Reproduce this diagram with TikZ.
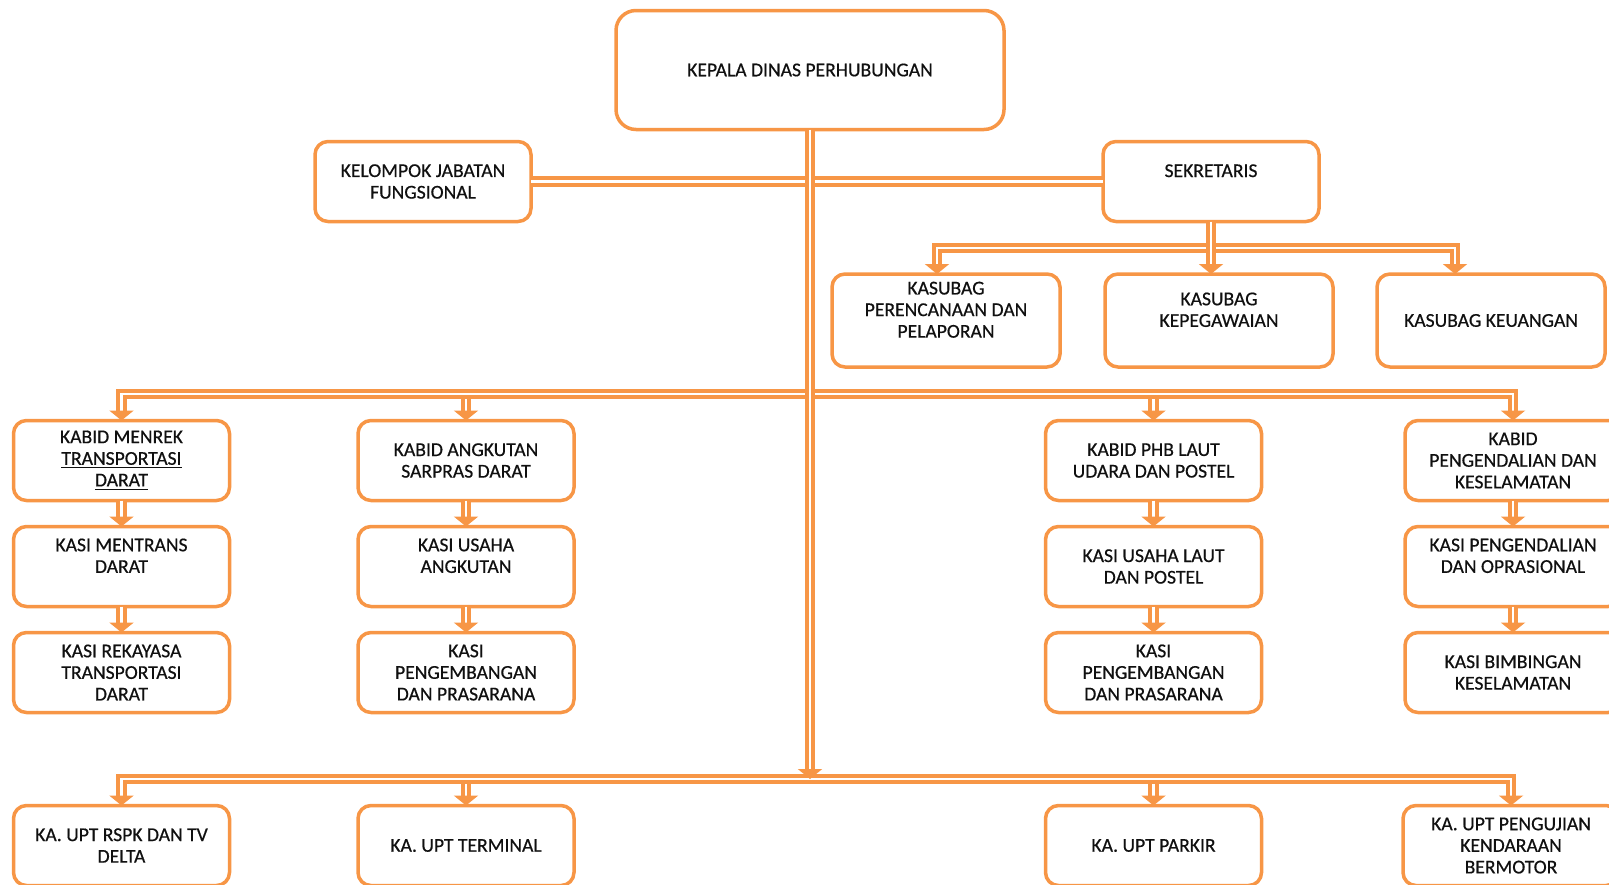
\documentclass[tikz,border=0pt]{standalone}
\usepackage{fontspec}
\setmainfont{Carlito}[BoldFont=Carlito,BoldFeatures={FakeBold=0.5}]
\usetikzlibrary{arrows.meta,positioning}
\definecolor{dhorange}{HTML}{F79646}
\definecolor{dhtext}{HTML}{101010}
\begin{document}
\begin{tikzpicture}[
  x=0.5pt,y=-0.5pt,
  font=\fontsize{9.8}{10.8}\selectfont\bfseries,
  box/.style={draw=dhorange,line width=1.75pt,rounded corners=6.5pt,fill=white,text=dhtext,
    align=center,inner sep=2pt,outer sep=0pt,minimum width=108pt,minimum height=40pt},
  sub/.style={box,minimum width=114pt,minimum height=46.5pt},
  link/.style={draw=dhorange,line width=2pt,double=white,double distance=1.25pt,->},
  >={Triangle[length=5pt,width=12pt]}]
\useasboundingbox (0,0) rectangle (1609,884);
\clip (0,0) rectangle (1609,884);
\node[box,minimum width=194pt,minimum height=59.5pt,rounded corners=10pt] (kadis) at (810,70) {KEPALA DINAS PERHUBUNGAN};
\node[box] (kjf) at (423,181.5) {KELOMPOK JABATAN\\FUNGSIONAL};
\node[box] (sek) at (1211,181.5) {SEKRETARIS\\\mbox{}};
\node[sub] (sbren) at (946,320.5) {KASUBAG\\PERENCANAAN DAN\\PELAPORAN\\\mbox{}};
\node[sub] (sbpeg) at (1219,320.5) {KASUBAG\\KEPEGAWAIAN\\\mbox{}};
\node[sub] (sbkeu) at (1491,320.5) {KASUBAG KEUANGAN};
\node[box] (kb1) at (121.5,460.5) {KABID MENREK\\\underline{TRANSPORTASI}\\\underline{DARAT}};
\node[box,below=13pt of kb1] (ks1a) {KASI MENTRANS\\DARAT\\\mbox{}};
\node[box,below=13pt of ks1a] (ks1b) {KASI REKAYASA\\TRANSPORTASI\\DARAT};
\node[box] (kb2) at (466,460.5) {KABID ANGKUTAN\\SARPRAS DARAT};
\node[box,below=13pt of kb2] (ks2a) {KASI USAHA\\ANGKUTAN\\\mbox{}};
\node[box,below=13pt of ks2a] (ks2b) {KASI\\PENGEMBANGAN\\DAN PRASARANA};
\node[box] (kb3) at (1153.5,460.5) {KABID PHB LAUT\\UDARA DAN POSTEL};
\node[box,below=13pt of kb3] (ks3a) {KASI USAHA LAUT\\DAN POSTEL};
\node[box,below=13pt of ks3a] (ks3b) {KASI\\PENGEMBANGAN\\DAN PRASARANA};
\node[box] (kb4) at (1513,460.5) {KABID\\PENGENDALIAN DAN\\KESELAMATAN};
\node[box,below=13pt of kb4] (ks4a) {KASI PENGENDALIAN\\DAN OPRASIONAL\\\mbox{}};
\node[box,below=13pt of ks4a] (ks4b) {KASI BIMBINGAN\\KESELAMATAN};
\node[box] (upt1) at (121.5,845.5) {KA. UPT RSPK DAN TV\\DELTA};
\node[box] (upt2) at (466,845.5) {KA. UPT TERMINAL};
\node[box] (upt3) at (1153.5,845.5) {KA. UPT PARKIR};
\node[box] (upt4) at (1511,845.5) {KA. UPT PENGUJIAN\\KENDARAAN\\BERMOTOR};
\coordinate (sekbus) at (1211,248);
\coordinate (midbus) at (810,394);
\coordinate (uptbus) at (810,779);
\draw[link,-] (kjf) -- (sek);
\draw[link] (sekbus) -| ([xshift=-4.5pt]sbren.north);
\draw[link] (sekbus) -| ([xshift=-18pt]sbkeu.north);
\draw[link] (sek) -- (sek.south |- sbpeg.north);
\draw[link] (midbus) -| (kb2);
\draw[link] (midbus) -| (kb1);
\draw[link] (midbus) -| (kb3);
\draw[link] (midbus) -| (kb4);
\draw[link] (kb1) -- (ks1a);
\draw[link] (ks1a) -- (ks1b);
\draw[link] (kb2) -- (ks2a);
\draw[link] (ks2a) -- (ks2b);
\draw[link] (kb3) -- (ks3a);
\draw[link] (ks3a) -- (ks3b);
\draw[link] (kb4) -- (ks4a);
\draw[link] (ks4a) -- (ks4b);
\draw[link] (uptbus) -| (upt2);
\draw[link] (uptbus) -| (upt1);
\draw[link] (uptbus) -| (upt3);
\draw[link] (uptbus) -| (upt4);
\draw[link] (kadis) -- (uptbus);
\end{tikzpicture}
\end{document}
